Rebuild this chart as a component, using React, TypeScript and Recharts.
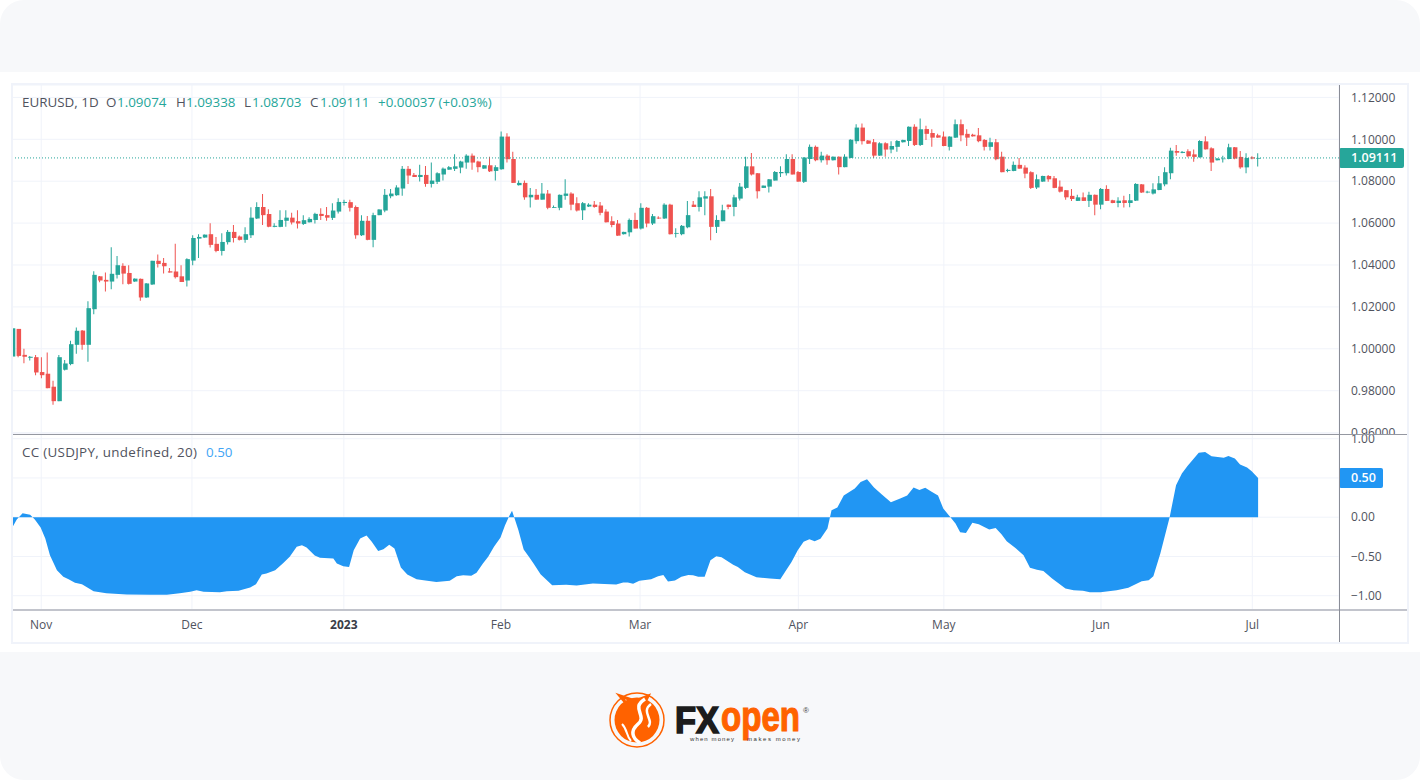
import React from 'react';
import {
  ComposedChart,
  Bar,
  Area,
  Cell,
  XAxis,
  YAxis,
  CartesianGrid,
  ReferenceLine,
} from 'recharts';

const opens = [
  0.9963,1.0095,0.9971,0.9957,0.9960,0.9889,0.9881,0.9819,0.9750,0.9900,
  0.9927,1.0019,1.0087,1.0019,1.0189,1.0346,1.0329,1.0321,1.0353,1.0396,
  1.0362,1.0321,1.0334,1.0245,1.0307,1.0420,1.0410,1.0370,1.0369,1.0346,
  1.0326,1.0421,1.0526,1.0531,1.0547,1.0501,1.0467,1.0509,1.0558,1.0536,
  1.0520,1.0542,1.0622,1.0677,1.0644,1.0582,1.0582,1.0611,1.0626,1.0609,
  1.0596,1.0604,1.0615,1.0644,1.0638,1.0625,1.0655,1.0696,1.0700,1.0677,
  1.0542,1.0611,1.0520,1.0638,1.0660,1.0728,1.0733,1.0765,1.0859,1.0830,
  1.0820,1.0830,1.0787,1.0797,1.0832,1.0855,1.0859,1.0865,1.0889,1.0922,
  1.0894,1.0860,1.0876,1.0849,1.0857,1.1013,1.0906,1.0781,1.0792,1.0723,
  1.0735,1.0712,1.0741,1.0673,1.0673,1.0730,1.0741,1.0695,1.0661,1.0679,
  1.0688,1.0684,1.0655,1.0609,1.0598,1.0547,1.0556,1.0615,1.0574,1.0673,
  1.0598,1.0626,1.0622,1.0688,1.0549,1.0547,1.0580,1.0688,1.0677,1.0717,
  1.0728,1.0582,1.0609,1.0688,1.0677,1.0717,1.0768,1.0871,1.0838,1.0768,
  1.0774,1.0803,1.0838,1.0838,1.0906,1.0844,1.0797,1.0906,1.0964,1.0900,
  1.0922,1.0900,1.0917,1.0867,1.0911,1.0991,1.1056,1.0994,1.0986,1.0922,
  1.0981,1.0951,1.0964,1.0986,1.0992,1.1060,1.0973,1.1049,1.1030,1.1019,
  1.1013,1.0964,1.1008,1.1072,1.1026,1.1022,1.1019,1.0997,1.0964,1.0986,
  1.0917,1.0849,1.0849,1.0878,1.0865,1.0843,1.0770,1.0798,1.0825,1.0814,
  1.0774,1.0757,1.0730,1.0706,1.0723,1.0706,1.0735,1.0688,1.0763,1.0709,
  1.0696,1.0709,1.0696,1.0707,1.0785,1.0746,1.0741,1.0758,1.0785,1.0838,
  1.0944,1.0935,1.0943,1.0928,1.0914,1.0990,1.0957,1.0900,1.0905,1.0906,
  1.0962,1.0916,1.0866,1.0914,1.09074,
];

const highs = [
  1.0098,1.0095,1.0000,0.9966,0.9970,0.9960,0.9982,0.9847,0.9970,0.9947,
  1.0038,1.0102,1.0090,1.0227,1.0370,1.0348,1.0364,1.0485,1.0443,1.0408,
  1.0399,1.0336,1.0335,1.0314,1.0420,1.0450,1.0434,1.0386,1.0501,1.0399,
  1.0432,1.0542,1.0547,1.0546,1.0599,1.0534,1.0552,1.0567,1.0591,1.0541,
  1.0580,1.0676,1.0700,1.0739,1.0666,1.0599,1.0661,1.0661,1.0650,1.0661,
  1.0638,1.0628,1.0649,1.0671,1.0677,1.0695,1.0719,1.0711,1.0712,1.0684,
  1.0638,1.0634,1.0649,1.0666,1.0763,1.0763,1.0781,1.0873,1.0873,1.0839,
  1.0878,1.0873,1.0889,1.0843,1.0865,1.0873,1.0929,1.0898,1.0929,1.0932,
  1.0898,1.0877,1.0917,1.0876,1.1037,1.1029,1.0940,1.0803,1.0803,1.0768,
  1.0763,1.0792,1.0758,1.0684,1.0736,1.0809,1.0747,1.0723,1.0701,1.0695,
  1.0706,1.0701,1.0666,1.0633,1.0615,1.0559,1.0622,1.0649,1.0695,1.0677,
  1.0644,1.0633,1.0695,1.0692,1.0576,1.0591,1.0706,1.0706,1.0752,1.0752,
  1.0763,1.0638,1.0688,1.0689,1.0735,1.0792,1.0917,1.0935,1.0839,1.0780,
  1.0811,1.0849,1.0871,1.0929,1.0929,1.0849,1.0914,1.0975,1.0970,1.0940,
  1.0929,1.0918,1.0918,1.0929,1.1000,1.1072,1.1076,1.0997,1.1002,1.0986,
  1.0986,1.0991,1.0997,1.0998,1.1061,1.1072,1.1099,1.1065,1.1048,1.1026,
  1.1037,1.1014,1.1094,1.1094,1.1048,1.1026,1.1054,1.1002,1.1008,1.1002,
  1.0940,1.0860,1.0894,1.0911,1.0876,1.0847,1.0832,1.0826,1.0830,1.0825,
  1.0803,1.0758,1.0763,1.0735,1.0746,1.0750,1.0736,1.0768,1.0781,1.0711,
  1.0723,1.0731,1.0739,1.0790,1.0787,1.0755,1.0790,1.0825,1.0866,1.0960,
  1.0973,1.0944,1.0952,1.0951,1.0995,1.1014,1.0962,1.0911,1.0922,1.0979,
  1.0963,1.0944,1.0933,1.0919,1.09338,
];

const lows = [
  0.9963,0.9960,0.9931,0.9944,0.9874,0.9860,0.9812,0.9733,0.9750,0.9897,
  0.9922,0.9976,0.9995,0.9938,1.0165,1.0318,1.0273,1.0284,1.0335,1.0308,
  1.0307,1.0320,1.0229,1.0243,1.0304,1.0388,1.0359,1.0364,1.0335,1.0319,
  1.0297,1.0399,1.0434,1.0530,1.0483,1.0461,1.0445,1.0498,1.0507,1.0517,
  1.0506,1.0529,1.0620,1.0591,1.0580,1.0580,1.0580,1.0582,1.0593,1.0574,
  1.0591,1.0603,1.0598,1.0615,1.0611,1.0615,1.0646,1.0684,1.0655,1.0525,
  1.0539,1.0518,1.0485,1.0637,1.0652,1.0719,1.0730,1.0730,1.0787,1.0820,
  1.0798,1.0774,1.0770,1.0787,1.0803,1.0855,1.0849,1.0838,1.0860,1.0855,
  1.0843,1.0859,1.0844,1.0803,1.0855,1.0889,1.0792,1.0779,1.0711,1.0674,
  1.0711,1.0711,1.0666,1.0673,1.0661,1.0712,1.0661,1.0655,1.0615,1.0677,
  1.0673,1.0638,1.0603,1.0580,1.0540,1.0546,1.0536,1.0574,1.0569,1.0580,
  1.0591,1.0620,1.0620,1.0545,1.0531,1.0542,1.0576,1.0677,1.0655,1.0638,
  1.0518,1.0553,1.0609,1.0666,1.0633,1.0708,1.0763,1.0827,1.0717,1.0767,
  1.0746,1.0803,1.0820,1.0827,1.0832,1.0797,1.0792,1.0882,1.0895,1.0889,
  1.0878,1.0899,1.0832,1.0867,1.0909,1.0979,1.0975,1.0978,1.0911,1.0921,
  1.0917,1.0933,1.0940,1.0985,1.0968,1.0968,1.0968,1.0997,1.0964,1.1007,
  1.0967,1.0946,1.1006,1.0991,1.0968,1.1013,1.0986,1.0946,1.0946,1.0900,
  1.0843,1.0843,1.0848,1.0859,1.0814,1.0763,1.0763,1.0797,1.0797,1.0766,
  1.0746,1.0711,1.0706,1.0705,1.0705,1.0677,1.0638,1.0666,1.0705,1.0695,
  1.0676,1.0674,1.0676,1.0706,1.0744,1.0742,1.0736,1.0757,1.0776,1.0809,
  1.0922,1.0933,1.0914,1.0893,1.0913,1.0951,1.0849,1.0899,1.0889,1.0905,
  1.0905,1.0860,1.0838,1.0905,1.08703,
];

const closes = [
  1.0098,0.9966,0.9962,0.9962,0.9887,0.9874,0.9812,0.9750,0.9960,0.9930,
  1.0022,1.0086,1.0019,1.0194,1.0353,1.0326,1.0321,1.0358,1.0399,1.0359,
  1.0310,1.0335,1.0245,1.0312,1.0420,1.0405,1.0394,1.0364,1.0342,1.0319,
  1.0428,1.0529,1.0534,1.0545,1.0496,1.0467,1.0510,1.0558,1.0529,1.0520,
  1.0547,1.0626,1.0677,1.0638,1.0582,1.0587,1.0615,1.0626,1.0603,1.0598,
  1.0614,1.0620,1.0644,1.0634,1.0626,1.0660,1.0701,1.0701,1.0673,1.0542,
  1.0611,1.0520,1.0638,1.0665,1.0735,1.0741,1.0770,1.0859,1.0827,1.0820,
  1.0830,1.0787,1.0803,1.0838,1.0860,1.0867,1.0871,1.0894,1.0922,1.0889,
  1.0867,1.0876,1.0847,1.0867,1.1013,1.0905,1.0792,1.0792,1.0723,1.0735,
  1.0712,1.0741,1.0673,1.0677,1.0735,1.0741,1.0688,1.0660,1.0695,1.0688,
  1.0677,1.0649,1.0604,1.0591,1.0540,1.0558,1.0615,1.0574,1.0673,1.0598,
  1.0633,1.0622,1.0688,1.0547,1.0553,1.0587,1.0638,1.0677,1.0723,1.0728,
  1.0582,1.0615,1.0661,1.0677,1.0723,1.0774,1.0871,1.0832,1.0752,1.0779,
  1.0809,1.0844,1.0844,1.0906,1.0832,1.0798,1.0913,1.0964,1.0900,1.0922,
  1.0900,1.0917,1.0867,1.0917,1.0998,1.1056,1.0991,1.0979,1.0922,1.0981,
  1.0951,1.0968,1.0992,1.0997,1.1060,1.0973,1.1048,1.1026,1.1008,1.1008,
  1.0968,1.1013,1.1072,1.1019,1.1008,1.1014,1.0991,1.0964,1.0986,1.0905,
  1.0843,1.0854,1.0878,1.0860,1.0836,1.0768,1.0809,1.0825,1.0809,1.0768,
  1.0750,1.0723,1.0715,1.0723,1.0706,1.0735,1.0688,1.0763,1.0706,1.0696,
  1.0707,1.0696,1.0709,1.0787,1.0746,1.0750,1.0761,1.0790,1.0843,1.0946,
  1.0936,1.0940,1.0919,1.0916,1.0992,1.0952,1.0889,1.0908,1.0908,1.0962,
  1.0908,1.0866,1.0911,1.0908,1.09111,
];

// correlation curve, bar position and value read at each visible bend
const ccBars = [
  0,0.7,1.7,3,3.8,4.8,5.6,6.4,7.6,8.7,9.6,10.7,11.9,13.9,16.1,19.6,23.6,26.5,28.7,30.5,
  31.6,32.8,35.6,36.8,38.8,40.8,41.8,42.8,43.6,45.1,46.5,47.6,48.8,49.7,50.5,51.9,52.8,55.1,55.7,56.8,
  57.8,58.6,59.7,60.8,61.7,62.8,63.7,64.7,65.6,66.7,67.8,69.4,70.6,72.8,75.1,76.3,77.4,78.8,79.7,80.8,
  81.7,82.7,83.8,84.6,85.3,85.8,86.3,86.9,87.8,88.7,89.5,90.7,92.7,95.1,96.9,99.7,103.7,104.9,105.7,106.6,
  107.7,109.7,110.9,111.8,112.6,113.8,114.9,116.1,116.9,117.8,118.9,119.9,120.9,121.8,123.8,124.6,125.8,127.8,130.1,131.9,
  132.9,133.8,134.9,135.9,136.9,137.8,138.8,140,140.7,141.7,142.8,144.7,145.7,146.8,148,149.3,150.9,152.5,153.7,154.8,
  155.8,156.8,157.9,159,159.9,161.1,162,162.8,163.8,164.9,166,167.8,168.9,169.9,170.8,172.3,173.7,174.8,176,177.1,
  178.6,180.9,182.3,183.9,185.1,186.9,189.7,191.7,194,195.2,196,197.2,198.8,199.9,200.9,201.9,203.8,204.9,206,208.1,
  208.9,210,210.9,212.1,212.9,214,
];

const ccValues = [
  -0.123,-0.03,0.051,0.03,-0.03,-0.132,-0.272,-0.484,-0.675,-0.76,-0.789,-0.836,-0.853,-0.943,-0.968,-0.985,-0.989,-0.989,-0.968,-0.951,
  -0.93,-0.951,-0.955,-0.943,-0.938,-0.896,-0.853,-0.73,-0.718,-0.675,-0.582,-0.505,-0.378,-0.357,-0.386,-0.489,-0.518,-0.527,-0.59,-0.624,
  -0.633,-0.42,-0.272,-0.234,-0.314,-0.429,-0.408,-0.352,-0.399,-0.641,-0.73,-0.79,-0.803,-0.824,-0.81,-0.752,-0.739,-0.747,-0.709,-0.59,
  -0.505,-0.378,-0.263,-0.102,0.013,0.081,-0.03,-0.166,-0.412,-0.505,-0.59,-0.726,-0.866,-0.862,-0.87,-0.845,-0.858,-0.832,-0.832,-0.849,
  -0.811,-0.79,-0.752,-0.735,-0.82,-0.807,-0.76,-0.735,-0.739,-0.76,-0.76,-0.548,-0.497,-0.51,-0.607,-0.633,-0.701,-0.764,-0.781,-0.79,
  -0.675,-0.573,-0.42,-0.314,-0.28,-0.306,-0.276,-0.144,0.089,0.123,0.276,0.365,0.45,0.484,0.378,0.293,0.191,0.238,0.276,0.378,
  0.348,0.374,0.323,0.276,0.11,0.004,-0.081,-0.191,-0.2,-0.072,-0.089,-0.157,-0.136,-0.217,-0.306,-0.391,-0.484,-0.645,-0.671,-0.684,
  -0.781,-0.909,-0.93,-0.938,-0.955,-0.955,-0.93,-0.9,-0.815,-0.803,-0.752,-0.463,0,0.408,0.556,0.654,0.82,0.832,0.777,0.756,
  0.781,0.747,0.671,0.633,0.586,0.5,
];

const priceTicks = [0.96, 0.98, 1.0, 1.02, 1.04, 1.06, 1.08, 1.1, 1.12];
const ccTicks = [-1, -0.5, 0, 0.5, 1];
const monthBars = [4.9, 30.8, 56.9, 83.9, 107.8, 135, 160, 187, 213];
const monthLabels = ['Nov', 'Dec', '2023', 'Feb', 'Mar', 'Apr', 'May', 'Jun', 'Jul'];

const lastClose = 1.09111;
const lastCC = 0.5;

const candles = opens.map((o, i) => ({
  bar: i,
  wick: [lows[i], highs[i]],
  body: [Math.min(o, closes[i]), Math.max(o, closes[i])],
  up: closes[i] >= o,
}));
const ccData = ccBars.map((b, i) => ({ bar: b, cc: ccValues[i] }));

const FONT = '"Open Sans", "Noto Sans", sans-serif';
const UP = '#26a69a';
const DOWN = '#ef5350';
const BLUE = '#2196f3';
const GRID = '#f0f3fa';
const AXIS_TEXT = '#50535e';
const BAR_DOMAIN: [number, number] = [-0.12, 227.9];

function ValueTag({ viewBox, text, fill, width }: any) {
  const x = viewBox.x + viewBox.width;
  return (
    <g>
      <rect x={x} y={viewBox.y - 10} width={width} height={20} rx={2} fill={fill} />
      <text
        x={x + 12}
        y={viewBox.y + 4.5}
        fill="#fff"
        fontSize={12.5}
        fontWeight={600}
        fontFamily={FONT}
      >
        {text}
      </text>
    </g>
  );
}

function MonthTick({ x, y, payload }: any) {
  const label = monthLabels[monthBars.indexOf(payload.value)];
  const isYear = label === '2023';
  return (
    <text
      x={x}
      y={y + 11}
      textAnchor="middle"
      fontSize={12}
      fontWeight={isYear ? 700 : 400}
      fontFamily={FONT}
      fill={isYear ? '#3a3d47' : AXIS_TEXT}
    >
      {label}
    </text>
  );
}

function Label({ x, y, color = '#50535e', spacing = 0, children }: any) {
  return (
    <span
      style={{
        position: 'absolute',
        left: x,
        top: y - 10,
        lineHeight: '20px',
        fontSize: 13.4,
        letterSpacing: spacing,
        fontFamily: FONT,
        color,
        whiteSpace: 'nowrap',
      }}
    >
      {children}
    </span>
  );
}

function Box({ x, y, w, h, color, style }: any) {
  return (
    <div
      style={{ position: 'absolute', left: x, top: y, width: w, height: h, background: color, ...style }}
    />
  );
}

function Logo() {
  return (
    <svg
      width={220}
      height={70}
      viewBox="600 685 220 70"
      style={{ position: 'absolute', left: 600, top: 685, overflow: 'visible' }}
    >
      <circle cx={637} cy={720} r={27} fill="none" stroke="#ff6200" strokeWidth={1.5} />
      <circle cx={637} cy={720} r={22.5} fill="#ff6200" />
      <path d="M626 703 L620 696 L632 700 M638 700 L648 696 L644 704" stroke="#ff6200" strokeWidth={3} fill="none" />
      <path
        d="M645 699 C630 708 648 716 638 724 C630 731 632 738 640 743"
        stroke="#fff"
        strokeWidth={3.5}
        fill="none"
      />
      <path d="M651 704 C640 712 655 720 648 727" stroke="#fff" strokeWidth={2.5} fill="none" />
      <path d="M622 724 C628 730 626 736 631 741" stroke="#fff" strokeWidth={2} fill="none" />
      <text
        x={675}
        y={733}
        fontFamily="Liberation Sans"
        fontWeight={700}
        fontSize={36}
        fill="#1c1c1c"
        stroke="#1c1c1c"
        strokeWidth={1.6}
        textLength={44}
        lengthAdjust="spacingAndGlyphs"
      >
        FX
      </text>
      <text
        x={721}
        y={731}
        fontFamily="Liberation Sans"
        fontWeight={700}
        fontSize={42}
        fill="#ff6200"
        stroke="#ff6200"
        strokeWidth={1.2}
        textLength={79}
        lengthAdjust="spacingAndGlyphs"
      >
        open
      </text>
      <text x={690} y={741} fontFamily="Liberation Sans" fontSize={6} fill="#333" textLength={44}>
        when money
      </text>
      <text x={747} y={741} fontFamily="Liberation Sans" fontSize={6} fill="#333" textLength={53}>
        makes money
      </text>
      <text x={803} y={713} fontFamily="Liberation Sans" fontSize={8} fill="#444">
        ®
      </text>
    </svg>
  );
}

export default function App() {
  return (
    <div
      style={{
        position: 'absolute',
        left: 0,
        top: 0,
        width: 1420,
        height: 780,
        background: '#fff',
        overflow: 'hidden',
      }}
    >
      <Box x={0} y={0} w={1420} h={72} color="#f7f8fa" style={{ borderRadius: '24px 24px 0 0' }} />
      <Box x={0} y={652} w={1420} h={128} color="#f7f8fa" style={{ borderRadius: '0 0 24px 24px' }} />

      <div style={{ position: 'absolute', left: 12, top: 85 }}>
        <ComposedChart
          width={1396}
          height={349}
          data={candles}
          margin={{ top: 0, right: 0, bottom: 0, left: 0 }}
        >
          <CartesianGrid stroke={GRID} strokeWidth={1} />
          <XAxis
            dataKey="bar"
            type="number"
            hide
            domain={BAR_DOMAIN}
            allowDataOverflow
            ticks={monthBars}
          />
          <XAxis xAxisId="body" dataKey="bar" type="number" hide domain={BAR_DOMAIN} allowDataOverflow />
          <YAxis
            orientation="right"
            width={69}
            domain={[0.95933, 1.12592]}
            allowDataOverflow
            ticks={priceTicks}
            interval={0}
            tickFormatter={(v: number) => v.toFixed(5)}
            tick={{ fill: AXIS_TEXT, fontSize: 12, fontFamily: FONT }}
            tickLine={false}
            tickMargin={12}
            tickSize={0}
            axisLine={false}
          />
          <Bar dataKey="wick" barSize={1} isAnimationActive={false}>
            {candles.map((c) => (
              <Cell key={c.bar} fill={c.up ? UP : DOWN} />
            ))}
          </Bar>
          <Bar xAxisId="body" dataKey="body" barSize={4.5} isAnimationActive={false}>
            {candles.map((c) => (
              <Cell key={c.bar} fill={c.up ? UP : DOWN} />
            ))}
          </Bar>
          <ReferenceLine
            y={lastClose}
            stroke={UP}
            strokeDasharray="1 2"
            label={<ValueTag text={lastClose.toFixed(5)} fill={UP} width={65} />}
          />
        </ComposedChart>
      </div>

      <Box x={13} y={434} w={1395} h={208} color="#fff" />

      <div style={{ position: 'absolute', left: 12, top: 425 }}>
        <ComposedChart
          width={1396}
          height={217}
          data={ccData}
          margin={{ top: 9, right: 0, bottom: 0, left: 0 }}
        >
          <CartesianGrid stroke={GRID} strokeWidth={1} />
          <XAxis
            dataKey="bar"
            type="number"
            height={32}
            domain={BAR_DOMAIN}
            allowDataOverflow
            ticks={monthBars}
            interval={0}
            tick={<MonthTick />}
            tickLine={false}
            axisLine={false}
          />
          <YAxis
            orientation="right"
            width={69}
            domain={[-1.1822, 1.0599]}
            allowDataOverflow
            ticks={ccTicks}
            interval={0}
            tickFormatter={(v: number) =>
              v === lastCC ? '' : v < 0 ? '\u2212' + Math.abs(v).toFixed(2) : v.toFixed(2)
            }
            tick={{ fill: AXIS_TEXT, fontSize: 12, fontFamily: FONT }}
            tickLine={false}
            tickMargin={12}
            tickSize={0}
            axisLine={false}
          />
          <Area
            dataKey="cc"
            type="linear"
            baseValue={0}
            stroke="none"
            fill={BLUE}
            fillOpacity={1}
            isAnimationActive={false}
          />
          <ReferenceLine
            y={lastCC}
            stroke="none"
            label={<ValueTag text={lastCC.toFixed(2)} fill={BLUE} width={44} />}
          />
        </ComposedChart>
      </div>

      <Box x={11} y={83} w={1398} h={2} color={GRID} />
      <Box x={11} y={642} w={1398} h={2} color={GRID} />
      <Box x={11} y={83} w={2} h={561} color={GRID} />
      <Box x={1407} y={83} w={2} h={561} color={GRID} />
      <Box x={13} y={434} w={1394} h={1} color="#9598a1" />
      <Box x={13} y={609} w={1394} h={2} color="#c2c4cc" />
      <Box x={1339} y={85} w={1} h={557} color="#8a8d97" />

      <Label x={22} y={102}>EURUSD, 1D</Label>
      <Label x={106} y={102}>O</Label>
      <Label x={117} y={102} color={UP}>1.09074</Label>
      <Label x={176} y={102}>H</Label>
      <Label x={186} y={102} color={UP}>1.09338</Label>
      <Label x={244} y={102}>L</Label>
      <Label x={252} y={102} color={UP}>1.08703</Label>
      <Label x={310} y={102}>C</Label>
      <Label x={320} y={102} color={UP}>1.09111</Label>
      <Label x={378} y={102} color={UP}>+0.00037 (+0.03%)</Label>
      <Label x={22} y={452} spacing={0.3}>CC (USDJPY, undefined, 20)</Label>
      <Label x={206} y={452} color="#42a5f5">0.50</Label>

      <Logo />
    </div>
  );
}
